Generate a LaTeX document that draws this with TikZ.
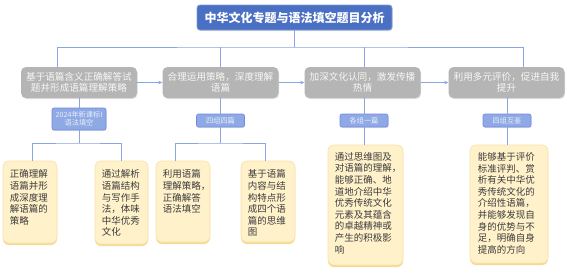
\documentclass[tikz,border=0pt]{standalone}
\usepackage{fontspec}
\newfontfamily\cjk{Noto Sans CJK SC}
\usetikzlibrary{arrows.meta,shadows,calc}
\definecolor{tblue}{HTML}{4A70C4}
\definecolor{lblue}{HTML}{8EA9E3}
\definecolor{cline}{HTML}{8AA5E2}
\definecolor{gbox}{HTML}{B5B5B5}
\definecolor{ybox}{HTML}{FFF1CA}
\definecolor{yedge}{HTML}{F9E2A6}
\definecolor{yshadow}{HTML}{F2D27A}
\definecolor{ytext}{HTML}{3C3C3C}
\begin{document}
\begin{tikzpicture}[x=1pt,y=-1pt,
 conn/.style={draw=cline,line width=0.8pt},
 titlebox/.style={fill=tblue,draw=tblue!70!white,line width=0.8pt,rounded corners=3pt,minimum width=195pt,minimum height=25pt,inner sep=0pt,text=white,font=\cjk\fontsize{12}{14}\selectfont\bfseries,drop shadow={shadow xshift=0.5pt,shadow yshift=-1pt,opacity=0.25}},
 graybox/.style={fill=gbox,rounded corners=5pt,minimum width=116pt,minimum height=31pt,text=white!94!gray,align=center,font=\cjk\fontsize{9.6}{11.3}\selectfont,inner sep=0pt,drop shadow={shadow xshift=0.5pt,shadow yshift=-1pt,opacity=0.25}},
 tagbox/.style={fill=lblue,draw=lblue!80!blue,line width=0.6pt,rounded corners=2pt,text=white!82!lblue,font=\cjk\fontsize{7.2}{8.4}\selectfont,inner sep=0pt,align=center,drop shadow={shadow xshift=0.5pt,shadow yshift=-1pt,opacity=0.2}},
 notebox/.style={fill=ybox,draw=yedge,line width=0.6pt,rounded corners=6pt,inner sep=0pt,drop shadow={shadow xshift=0pt,shadow yshift=-2pt,fill=yshadow,opacity=0.8}},
 notetext/.style={anchor=north west,inner sep=0pt,align=left,text=ytext,font=\cjk\fontsize{9.5}{11.6}\selectfont}
]
\useasboundingbox (0,0) rectangle (567,274);
\fill[white] (0,0) rectangle (567,274);

% title
\node[titlebox] (title) at (294.5,17.5) {中华文化专题与语法填空题目分析};

% stage boxes
\node[graybox] (b1) at (79,82.5) {基于语篇含义正确解答试\\题并形成语篇理解策略};
\node[graybox] (b2) at (220.5,82.5) {合理运用策略，深度理解\\语篇};
\node[graybox] (b3) at (362.5,82.5) {加深文化认同，激发传播\\热情};
\node[graybox] (b4) at (506.5,82.5) {利用多元评价，促进自我\\提升};

% tags
\node[tagbox,minimum width=54pt,minimum height=22pt] (t1) at (79,119) {2024年新课标I\\语法填空};
\node[tagbox,minimum width=48pt,minimum height=13pt] (t2) at (220.5,120.5) {四组四篇};
\node[tagbox,minimum width=48pt,minimum height=13pt] (t3) at (364,120.5) {各组一篇};
\node[tagbox,minimum width=48pt,minimum height=13pt] (t4) at (507,120.5) {四组互鉴};

% notes
\node[notebox,minimum width=54pt,minimum height=82pt] (c1) at (30,202) {};
\node[notetext] (c1t) at ($(c1.north west)+(7,9)$) {正确理解\\语篇并形\\成深度理\\解语篇的\\策略};
\node[notebox,minimum width=53pt,minimum height=83pt] (c2) at (121.5,202.5) {};
\node[notetext] (c2t) at ($(c2.north west)+(7,9)$) {通过解析\\语篇结构\\与写作手\\法，体味\\中华优秀\\文化};
\node[notebox,minimum width=54pt,minimum height=81pt] (c3) at (183,201.5) {};
\node[notetext] (c3t) at ($(c3.north west)+(7,9)$) {利用语篇\\理解策略，\\正确解答\\语法填空};
\node[notebox,minimum width=54pt,minimum height=81pt] (c4) at (268,201.5) {};
\node[notetext] (c4t) at ($(c4.north west)+(7,9)$) {基于语篇\\内容与结\\构特点形\\成四个语\\篇的思维\\图};
\node[notebox,minimum width=75pt,minimum height=120pt] (c5) at (365.5,205) {};
\node[notetext] (c5t) at ($(c5.north west)+(7,7.5)$) {通过思维图及\\对语篇的理解，\\能够正确、地\\道地介绍中华\\优秀传统文化\\元素及其蕴含\\的卓越精神或\\产生的积极影\\响};
\node[notebox,minimum width=78pt,minimum height=118pt] (c6) at (509,204) {};
\node[notetext] (c6t) at ($(c6.north west)+(8,7.5)$) {能够基于评价\\标准评判、赏\\析有关中华优\\秀传统文化的\\介绍性语篇，\\并能够发现自\\身的优势与不\\足，明确自身\\提高的方向};

% top tree
\coordinate (j0) at (294.5,47);
\draw[conn] (title.south) -- (j0);
\draw[conn] ([xshift=-22pt]b1.north) |- (j0) -| ([xshift=16.5pt]b4.north);
\draw[conn] (b2.north) -- (b2.north |- j0);
\draw[conn] ([xshift=1.5pt]b3.north) -- ([xshift=1.5pt]b3.north |- j0);

% arrows between stages
\draw[conn,-{Stealth[length=4pt,width=3.5pt]}] (b1.east) -- (b2.west);
\draw[conn,-{Stealth[length=4pt,width=3.5pt]}] (b2.east) -- (b3.west);
\draw[conn,-{Stealth[length=4pt,width=3.5pt]}] (b3.east) -- (b4.west);

% stage to tag
\draw[conn] (b1.south) -- (t1.north);
\draw[conn] (b2.south) -- (t2.north);
\draw[conn] (b3.south -| t3.north) -- (t3.north);
\draw[conn] (b4.south -| t4.north) -- (t4.north);

% bottom trees
\coordinate (j1) at (79,143);
\draw[conn] (t1.south) -- (j1);
\draw[conn] ([xshift=2pt]c1.north) |- (j1) -| (c2.north);
\coordinate (j2) at (220.5,143);
\draw[conn] (t2.south) -- (j2);
\draw[conn] ([xshift=-8pt]c3.north) |- (j2) -| ([xshift=-3pt]c4.north);
\draw[conn] (t3.south) -- (t3.south |- c5.north);
\draw[conn] (t4.south) -- (t4.south |- c6.north);
\end{tikzpicture}
\end{document}
